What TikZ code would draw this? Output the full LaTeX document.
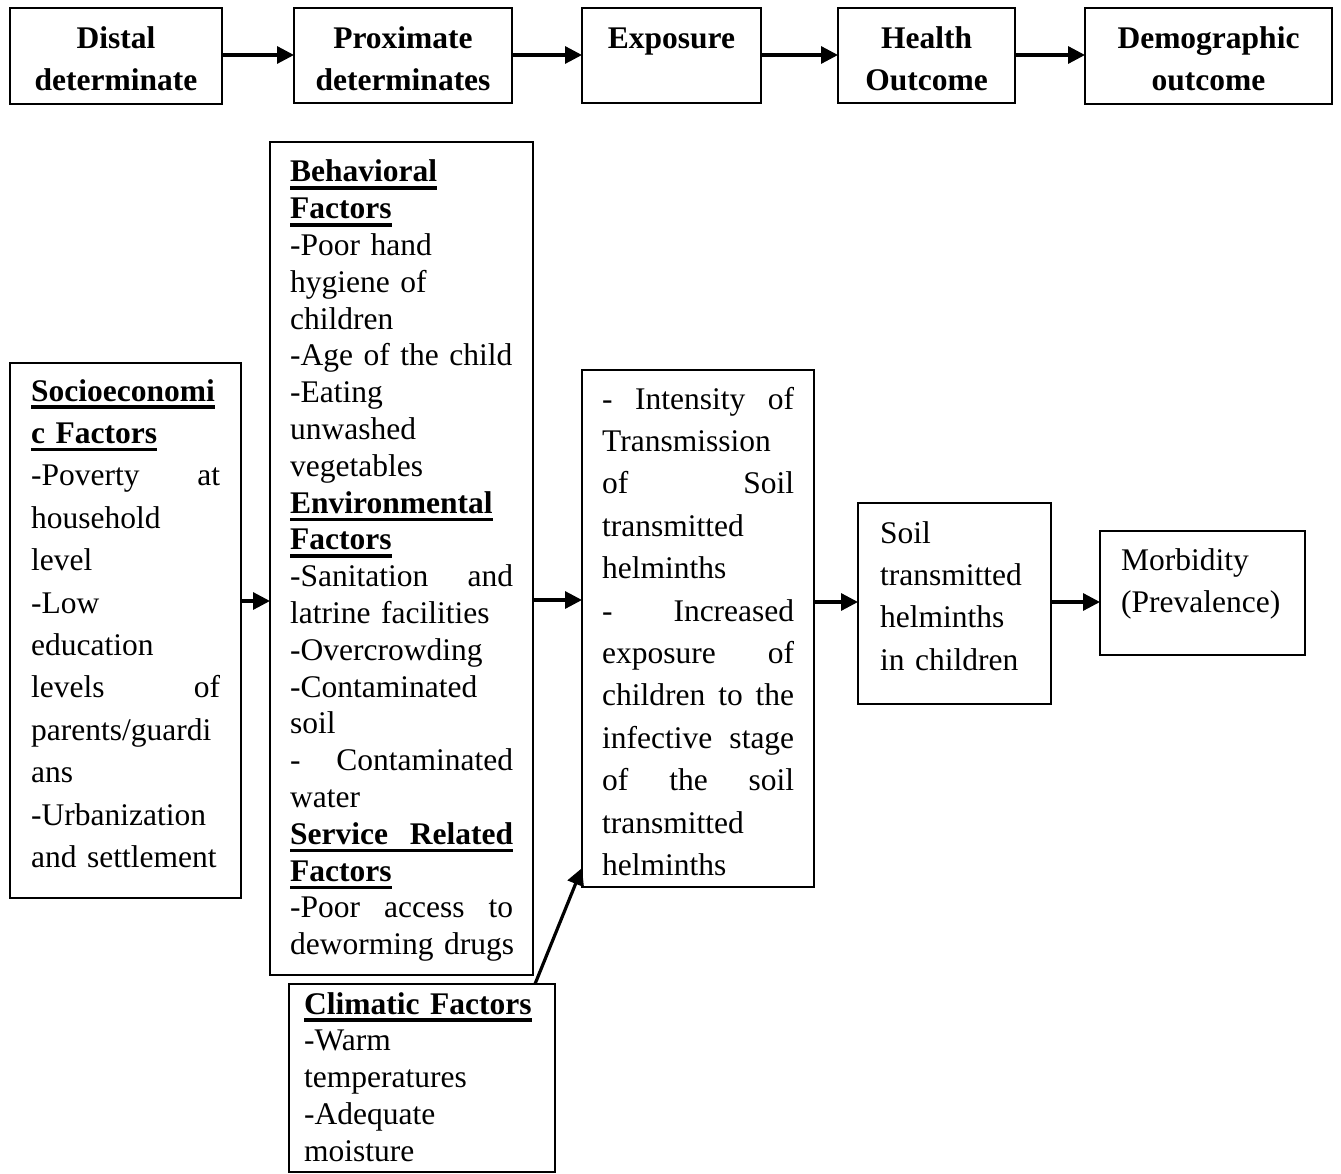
\documentclass[tikz,border=0pt]{standalone}
\usepackage{fontspec}
\setmainfont{Liberation Serif}
\usetikzlibrary{arrows.meta}
\newcommand\myul[1]{\leavevmode\setbox0=\hbox{\bfseries #1}\rlap{\rule[-7.8pt]{\wd0}{3.4pt}}\box0}
\begin{document}
\begin{tikzpicture}[x=1pt,y=-1pt,
  box/.style={draw, line width=1.8pt, inner sep=0pt, outer sep=0pt, anchor=north west},
  toptxt/.style={inner sep=0pt, anchor=base, align=center, text width=240pt,
    font=\fontsize{31.5}{42}\selectfont\bfseries},
  bodyA/.style={inner sep=0pt, anchor=base west, align=left,
    font=\fontsize{31.5}{36.8}\selectfont},
  bodyB/.style={inner sep=0pt, anchor=base west, align=left,
    font=\fontsize{31.5}{42.4}\selectfont},
  arr/.style={line width=3.2pt, -{Triangle[length=17pt,width=17pt]}}]
\useasboundingbox (0,0) rectangle (1341,1174);
% top row
\node[box, minimum width=212pt, minimum height=96pt] (distal) at (10,8) {};
\node[box, minimum width=218pt, minimum height=95pt] (prox) at (294,8) {};
\node[box, minimum width=179pt, minimum height=95pt] (expo) at (582,8) {};
\node[box, minimum width=177pt, minimum height=95pt] (health) at (838,8) {};
\node[box, minimum width=247pt, minimum height=96pt] (demo) at (1085,8) {};
\node[toptxt] (tdistal) at (116,49) {Distal\\determinate};
\node[toptxt] (tprox) at (403,49) {Proximate\\determinates};
\node[toptxt] (texpo) at (671.5,49) {Exposure};
\node[toptxt] (thealth) at (926.5,49) {Health\\Outcome};
\node[toptxt] (tdemo) at (1208.5,49) {Demographic\\outcome};
\draw[arr] (distal.east |- 0,55) -- (prox.west |- 0,55);
\draw[arr] (prox.east |- 0,55) -- (expo.west |- 0,55);
\draw[arr] (expo.east |- 0,55) -- (health.west |- 0,55);
\draw[arr] (health.east |- 0,55) -- (demo.west |- 0,55);
% lower row boxes
\node[box, minimum width=231pt, minimum height=535pt] (socio) at (10,363) {};
\node[box, minimum width=263pt, minimum height=833pt] (beh) at (270,142) {};
\node[box, minimum width=232pt, minimum height=517pt] (expb) at (582,370) {};
\node[box, minimum width=193pt, minimum height=201pt] (soil) at (858,503) {};
\node[box, minimum width=205pt, minimum height=124pt] (morb) at (1100,531) {};
\node[box, minimum width=266pt, minimum height=188pt] (clim) at (289,984) {};
% texts
\node[bodyB, text width=189pt] (tsocio) at (31,401) {%
\myul{Socioeconomi}\\
\myul{c Factors}\\
-Poverty\hfill at\\
household\\
level\\
-Low\\
education\\
levels\hfill of\\
parents/guardi\\
ans\\
-Urbanization\\
and settlement};
\node[bodyA, text width=223pt] (tbeh) at (290,182) {%
\myul{Behavioral}\\
\myul{Factors}\\
-Poor hand\\
hygiene of\\
children\\
-Age of the child\\
-Eating\\
unwashed\\
vegetables\\
\myul{Environmental}\\
\myul{Factors}\\
-Sanitation\hfill and\\
latrine facilities\\
-Overcrowding\\
-Contaminated\\
soil\\
-\hfill Contaminated\\
water\\
\myul{\hbox to 223pt{Service\hfil Related}}\\
\myul{Factors}\\
-Poor\hfill access\hfill to\\
\mbox{deworming drugs}};
\node[bodyB, text width=192pt] (texpb) at (602,409) {%
-\hfill Intensity\hfill of\\
Transmission\\
of\hfill Soil\\
transmitted\\
helminths\\
-\hfill Increased\\
exposure\hfill of\\
children\hfill to\hfill the\\
infective\hfill stage\\
of\hfill the\hfill soil\\
transmitted\\
helminths};
\node[bodyB, text width=165pt] (tsoil) at (880,543) {%
Soil\\
transmitted\\
helminths\\
in children};
\node[bodyB, text width=175pt] (tmorb) at (1121,570) {%
Morbidity\\
(Prevalence)};
\node[bodyA, text width=235pt] (tclim) at (304,1014) {%
\myul{Climatic Factors}\\
-Warm\\
temperatures\\
-Adequate\\
moisture};
% arrows
\draw[arr] (socio.east |- 0,601) -- (beh.west |- 0,601);
\draw[arr] (beh.east |- 0,600) -- (expb.west |- 0,600);
\draw[arr] (expb.east |- 0,602) -- (soil.west |- 0,602);
\draw[arr] (soil.east |- 0,602) -- (morb.west |- 0,602);
\draw[arr] (clim.north -| 535,0) -- (expb.west |- 0,868);
\end{tikzpicture}
\end{document}
